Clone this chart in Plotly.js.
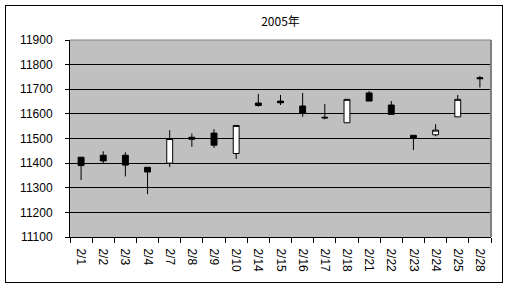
<!DOCTYPE html>
<html><head><meta charset="utf-8">
<script src="https://cdn.plot.ly/plotly-3.0.1.min.js"></script>
<style>
html,body{margin:0;padding:0;background:#fff;}
#wrap{position:relative;width:506px;height:288px;}
#chart{width:506px;height:288px;}
#frame{position:absolute;left:5px;top:5px;width:496px;height:276px;border:1px solid #000;pointer-events:none;}
</style></head>
<body><div id="wrap"><div id="chart"></div><div id="frame"></div></div>
<script>
const dates = ["2/1","2/2","2/3","2/4","2/7","2/8","2/9","2/10","2/14","2/15","2/16","2/17","2/18","2/21","2/22","2/23","2/24","2/25","2/28"];
const openV  = [11424,11432,11432,11383,11400,11505,11522,11439,11644,11652,11632,11586,11564,11685,11636,11513,11515,11588,11747];
const highV  = [11424,11448,11444,11383,11534,11520,11538,11553,11681,11677,11685,11640,11659,11693,11652,11513,11558,11677,11754];
const lowV   = [11331,11398,11346,11274,11384,11466,11462,11417,11629,11636,11588,11578,11564,11652,11598,11453,11509,11588,11707];
const closeV = [11390,11409,11392,11364,11500,11497,11473,11553,11634,11645,11603,11584,11659,11652,11598,11501,11534,11659,11743];
const yTicks = [11100,11200,11300,11400,11500,11600,11700,11800,11900];

const trace = {
  type: 'candlestick',
  x: dates, open: openV, high: highV, low: lowV, close: closeV,
  increasing: {line: {color: '#000', width: 1}, fillcolor: '#fff'},
  decreasing: {line: {color: '#000', width: 1}, fillcolor: '#000'},
  whiskerwidth: 0,
  hoverinfo: 'none'
};
const font = {family: '"Liberation Sans", Arial, sans-serif', size: 12, color: '#000'};
const layout = {
  width: 506, height: 288,
  margin: {l: 70, r: 15, t: 40, b: 51, pad: 0},
  paper_bgcolor: '#fff', plot_bgcolor: '#c0c0c0',
  showlegend: false,
  boxgap: 0.62,
  font: font,
  title: {text: '2005年', font: {family: '"Noto Sans CJK JP", sans-serif', size: 12, color: '#000'},
          x: 0.5, xref: 'paper', xanchor: 'center', y: 0.925, yref: 'container', yanchor: 'middle'},
  xaxis: {type: 'category', rangeslider: {visible: false}, showgrid: false,
          showline: true, linecolor: '#000', linewidth: 1,
          ticks: 'outside', tickson: 'boundaries', ticklen: 5, tickcolor: '#000',
          tickangle: 90, tickfont: font, ticklabelstandoff: 8, fixedrange: true},
  yaxis: {range: [11100, 11900], tickvals: yTicks, ticktext: yTicks.map(String),
          showgrid: true, gridcolor: '#000', gridwidth: 1,
          showline: true, linecolor: '#000', linewidth: 1, zeroline: false,
          ticks: 'outside', ticklen: 4, tickcolor: '#000',
          tickfont: font, ticklabelstandoff: 10, fixedrange: true},
  shapes: [
    {type: 'line', xref: 'paper', yref: 'paper', x0: 0, x1: 1, y0: 1, y1: 1, line: {color: '#808080', width: 1}, layer: 'above'},
    {type: 'line', xref: 'paper', yref: 'paper', x0: 1, x1: 1, y0: 0, y1: 1, line: {color: '#808080', width: 2}, layer: 'above'}
  ]
};
Plotly.newPlot('chart', [trace], layout, {displayModeBar: false, staticPlot: true});
</script></body></html>
